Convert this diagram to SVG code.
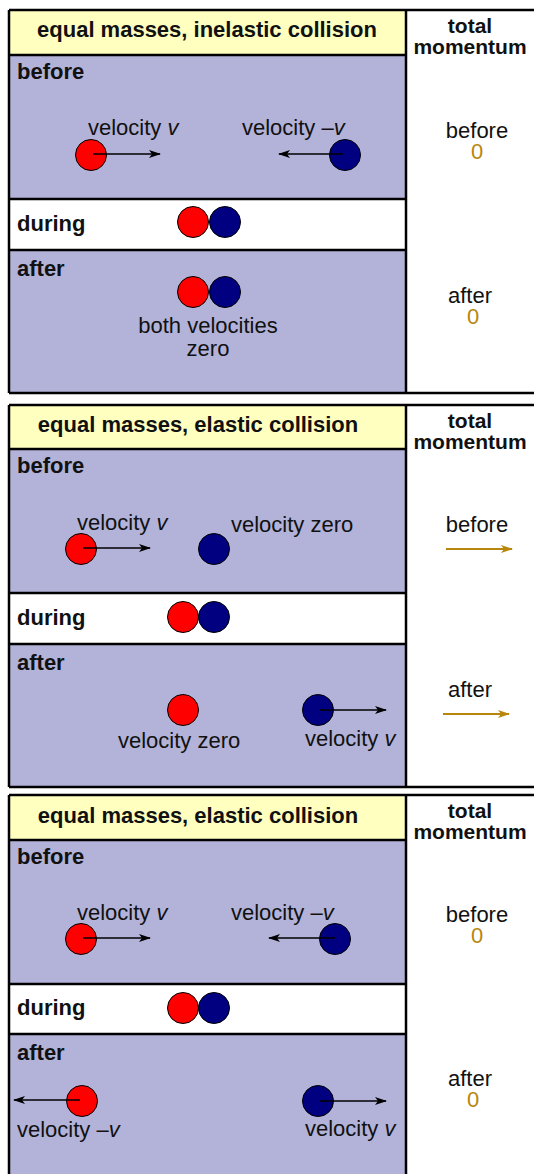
<svg xmlns="http://www.w3.org/2000/svg" width="534" height="1174" viewBox="0 0 534 1174">
<style>
.hdr{fill:#ffffc0}
.lav{fill:#b3b3d9}
.wht{fill:#ffffff}
.line{stroke:#000;stroke-width:2.5;fill:none}
.b{font-family:"Liberation Sans",Arial,sans-serif;font-weight:bold;font-size:22px;fill:#111}
.h{font-family:"Liberation Sans",Arial,sans-serif;font-weight:bold;font-size:22px;fill:#111;text-anchor:middle}
.tm{font-family:"Liberation Sans",Arial,sans-serif;font-weight:bold;font-size:21px;fill:#111;text-anchor:middle}
.t{font-family:"Liberation Sans",Arial,sans-serif;font-size:22px;fill:#111}
.m{text-anchor:middle}
.z{font-family:"Liberation Sans",Arial,sans-serif;font-size:22px;fill:#b8860b;text-anchor:middle}
.red{fill:#ff0000;stroke:#000;stroke-width:1}
.blu{fill:#000080;stroke:#000;stroke-width:1}
.arr{stroke:#000;stroke-width:1.6;fill:none;marker-end:url(#ah)}
.gar{stroke:#b8860b;stroke-width:2;fill:none;marker-end:url(#gh)}
</style>
<defs>
<marker id="ah" markerWidth="12" markerHeight="8" refX="11" refY="4" orient="auto" markerUnits="userSpaceOnUse">
<path d="M0,0 L12,4 L0,8 L3,4 z" fill="#000"/>
</marker>
<marker id="gh" markerWidth="12" markerHeight="8" refX="11" refY="4" orient="auto" markerUnits="userSpaceOnUse">
<path d="M0,0 L12,4 L0,8 L3,4 z" fill="#b8860b"/>
</marker>
</defs>
<rect width="534" height="1174" fill="#fff"/>

<!-- Panel 1 -->
<g id="panel1">
<rect class="hdr" x="9" y="10" width="397" height="45"/>
<rect class="lav" x="9" y="55" width="397" height="144"/>
<rect class="wht" x="9" y="199" width="397" height="51"/>
<rect class="lav" x="9" y="250" width="397" height="143"/>
<path class="line" d="M9,10 H534 M9,393 H534 M9,10 V393 M406,10 V393 M9,55 H406 M9,199 H406 M9,250 H406"/>
<text class="h" x="207" y="37">equal masses, inelastic collision</text>
<text class="tm" x="470" y="33">total</text>
<text class="tm" x="470" y="54">momentum</text>
<text class="b" x="17" y="79">before</text>
<text class="b" x="17" y="231">during</text>
<text class="b" x="17" y="276">after</text>
<text class="t" x="88" y="135">velocity <tspan font-style="italic">v</tspan></text>
<text class="t" x="242" y="135">velocity –<tspan font-style="italic">v</tspan></text>
<circle class="red" cx="91" cy="155" r="15.5"/>
<circle class="blu" cx="345" cy="155" r="15.5"/>
<circle class="red" cx="193" cy="222" r="15.5"/>
<circle class="blu" cx="225" cy="222" r="15.5"/>
<circle class="red" cx="193" cy="292" r="15.5"/>
<circle class="blu" cx="225" cy="292" r="15.5"/>
<text class="t m" x="208" y="333">both velocities</text>
<text class="t m" x="208" y="356">zero</text>
<text class="t m" x="477" y="138">before</text>
<text class="z" x="477" y="159">0</text>
<text class="t m" x="470" y="303">after</text>
<text class="z" x="473" y="324">0</text>
</g>

<!-- Panel 2 -->
<g id="panel2">
<rect class="hdr" x="9" y="405" width="397" height="44"/>
<rect class="lav" x="9" y="449" width="397" height="144"/>
<rect class="wht" x="9" y="593" width="397" height="51"/>
<rect class="lav" x="9" y="644" width="397" height="143"/>
<path class="line" d="M9,405 H534 M9,787 H534 M9,405 V787 M406,405 V787 M9,449 H406 M9,593 H406 M9,644 H406"/>
<text class="h" x="198" y="432">equal masses, elastic collision</text>
<text class="tm" x="470" y="428">total</text>
<text class="tm" x="470" y="449">momentum</text>
<text class="b" x="17" y="473">before</text>
<text class="b" x="17" y="625">during</text>
<text class="b" x="17" y="670">after</text>
<text class="t" x="77" y="530">velocity <tspan font-style="italic">v</tspan></text>
<text class="t" x="231" y="532">velocity zero</text>
<circle class="red" cx="81" cy="549" r="15.5"/>
<circle class="blu" cx="214" cy="549" r="15.5"/>
<circle class="red" cx="183" cy="617" r="15.5"/>
<circle class="blu" cx="214" cy="617" r="15.5"/>
<circle class="red" cx="183" cy="710" r="15.5"/>
<circle class="blu" cx="318" cy="710" r="15.5"/>
<text class="t" x="118" y="748">velocity zero</text>
<text class="t" x="305" y="746">velocity <tspan font-style="italic">v</tspan></text>
<text class="t m" x="477" y="532">before</text>
<text class="t m" x="470" y="697">after</text>
</g>

<!-- Panel 3 -->
<g id="panel3">
<rect class="hdr" x="9" y="795" width="397" height="45"/>
<rect class="lav" x="9" y="840" width="397" height="144"/>
<rect class="wht" x="9" y="984" width="397" height="50"/>
<rect class="lav" x="9" y="1034" width="397" height="140"/>
<path class="line" d="M9,795 H534 M9,795 V1174 M406,795 V1174 M9,840 H406 M9,984 H406 M9,1034 H406"/>
<text class="h" x="198" y="823">equal masses, elastic collision</text>
<text class="tm" x="470" y="818">total</text>
<text class="tm" x="470" y="839">momentum</text>
<text class="b" x="17" y="864">before</text>
<text class="b" x="17" y="1015">during</text>
<text class="b" x="17" y="1060">after</text>
<text class="t" x="77" y="920">velocity <tspan font-style="italic">v</tspan></text>
<text class="t" x="231" y="920">velocity –<tspan font-style="italic">v</tspan></text>
<circle class="red" cx="81" cy="939" r="15.5"/>
<circle class="blu" cx="335" cy="939" r="15.5"/>
<circle class="red" cx="183" cy="1008" r="15.5"/>
<circle class="blu" cx="214" cy="1008" r="15.5"/>
<circle class="red" cx="82" cy="1101" r="15.5"/>
<circle class="blu" cx="318" cy="1101" r="15.5"/>
<text class="t" x="17" y="1137">velocity –<tspan font-style="italic">v</tspan></text>
<text class="t" x="305" y="1136">velocity <tspan font-style="italic">v</tspan></text>
<text class="t m" x="477" y="922">before</text>
<text class="z" x="477" y="943">0</text>
<text class="t m" x="470" y="1086">after</text>
<text class="z" x="473" y="1107">0</text>
</g>

<g id="connectors">
<line class="arr" x1="93" y1="154" x2="160" y2="154"/>
<line class="arr" x1="343" y1="154" x2="279" y2="154"/>
<line class="arr" x1="83" y1="548" x2="150" y2="548"/>
<line class="gar" x1="446" y1="549" x2="512" y2="549"/>
<line class="arr" x1="320" y1="710" x2="386" y2="710"/>
<line class="gar" x1="443" y1="714" x2="509" y2="714"/>
<line class="arr" x1="83" y1="938" x2="150" y2="938"/>
<line class="arr" x1="335" y1="938" x2="269" y2="938"/>
<line class="arr" x1="80" y1="1100" x2="14" y2="1100"/>
<line class="arr" x1="320" y1="1101" x2="386" y2="1101"/>
</g>
</svg>
